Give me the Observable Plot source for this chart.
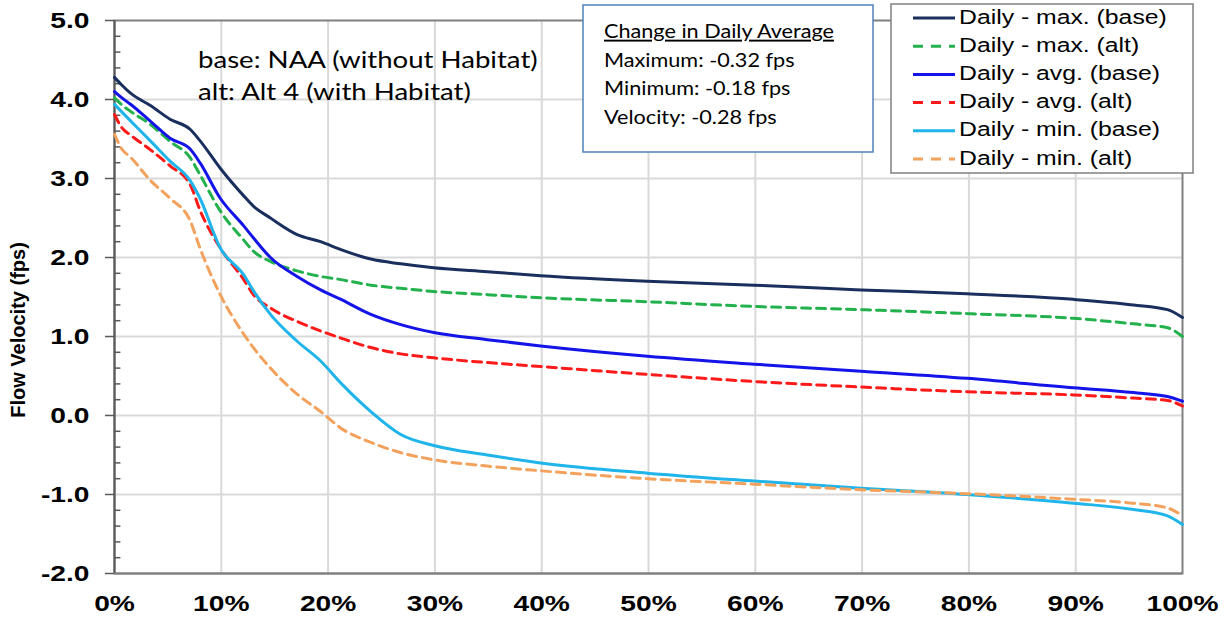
<!DOCTYPE html>
<html>
<head>
<meta charset="utf-8">
<script src="https://cdn.jsdelivr.net/npm/d3@7"></script>
<script src="https://cdn.jsdelivr.net/npm/@observablehq/plot@0.6"></script>
<style>
  html, body { margin: 0; padding: 0; background: #fff; }
  #chart { width: 1228px; height: 626px; }
</style>
</head>
<body>
<div id="chart"></div>
<script>
// Exceedance percentage (x) shared by all series
const pct = [0, 0.7, 1.5, 3.4, 5.2, 7.1, 8, 9.9, 12.1, 13, 14.6, 17.1, 19.3, 21.2, 24, 26.8, 29.9, 34.9, 39.9, 49.9, 59.9, 69.9, 79.8, 89.8, 95.4, 98.6, 100];

const maxBase = [4.28, 4.18, 4.08, 3.92, 3.75, 3.62, 3.48, 3.13, 2.78, 2.65, 2.50, 2.29, 2.20, 2.10, 1.98, 1.92, 1.87, 1.82, 1.77, 1.70, 1.65, 1.59, 1.54, 1.47, 1.40, 1.34, 1.24];
const maxAlt  = [4.02, 3.93, 3.85, 3.68, 3.47, 3.26, 3.05, 2.59, 2.22, 2.08, 1.95, 1.83, 1.76, 1.72, 1.65, 1.61, 1.57, 1.53, 1.49, 1.44, 1.38, 1.34, 1.29, 1.23, 1.16, 1.11, 1.00];
const avgBase = [4.10, 4.02, 3.94, 3.72, 3.51, 3.37, 3.20, 2.75, 2.40, 2.25, 2.00, 1.76, 1.59, 1.47, 1.28, 1.15, 1.05, 0.96, 0.88, 0.75, 0.65, 0.56, 0.47, 0.35, 0.29, 0.24, 0.18];
const avgAlt  = [3.81, 3.64, 3.55, 3.36, 3.16, 2.92, 2.60, 2.12, 1.72, 1.53, 1.36, 1.19, 1.07, 0.98, 0.86, 0.78, 0.73, 0.67, 0.62, 0.52, 0.43, 0.36, 0.30, 0.26, 0.22, 0.19, 0.12];
const minBase = [3.94, 3.84, 3.73, 3.47, 3.22, 2.97, 2.75, 2.12, 1.78, 1.58, 1.28, 0.94, 0.69, 0.41, 0.05, -0.24, -0.38, -0.50, -0.60, -0.73, -0.83, -0.92, -1.00, -1.11, -1.19, -1.27, -1.38];
const minAlt  = [3.56, 3.37, 3.27, 2.97, 2.75, 2.46, 2.12, 1.53, 1.03, 0.86, 0.60, 0.27, 0.05, -0.16, -0.34, -0.47, -0.56, -0.64, -0.70, -0.80, -0.87, -0.94, -0.99, -1.06, -1.11, -1.17, -1.27];

const seriesNames = ["Daily - max. (base)", "Daily - max. (alt)", "Daily - avg. (base)", "Daily - avg. (alt)", "Daily - min. (base)", "Daily - min. (alt)"];
const seriesValues = [maxBase, maxAlt, avgBase, avgAlt, minBase, minAlt];
const seriesColors = ["#1b2f5e", "#22b14c", "#1414e8", "#ff1a1a", "#1fb4ea", "#f2a25c"];
const seriesDash = [null, "9,6", null, "9,6", null, "9,6"];

const yTicks = [-2, -1, 0, 1, 2, 3, 4, 5];
const yMinorTicks = d3.range(-20, 51, 2).map(v => v / 10).filter(v => !Number.isInteger(v));
const xTicks = [0, 10, 20, 30, 40, 50, 60, 70, 80, 90, 100];

const noteLines = ["base: NAA (without Habitat)", "alt: Alt 4 (with Habitat)"];
const boxTitle = "Change in Daily Average";
const boxLines = ["Maximum: -0.32 fps", "Minimum: -0.18 fps", "Velocity: -0.28 fps"];
const yLabel = "Flow Velocity (fps)";

const rows = [];
seriesNames.forEach((name, i) => {
  pct.forEach((p, j) => rows.push({series: name, x: p, y: seriesValues[i][j], idx: i}));
});

const lineMarks = seriesNames.map((name, i) =>
  Plot.line(rows.filter(r => r.idx === i), {
    x: "x", y: "y",
    stroke: seriesColors[i],
    strokeWidth: 3,
    strokeDasharray: seriesDash[i] || undefined,
    curve: "monotone-x"
  })
);

const chart = Plot.plot({
  width: 1228,
  height: 626,
  marginLeft: 114,
  marginRight: 46,
  marginTop: 20,
  marginBottom: 53,
  style: {background: "#fff", fontFamily: "'Liberation Sans', Arial, sans-serif"},
  x: {domain: [0, 100]},
  y: {domain: [-2, 5]},
  marks: [
    Plot.gridX(xTicks.filter(t => t > 0 && t < 100), {stroke: "#d9d9d9", strokeOpacity: 1, strokeWidth: 2}),
    Plot.gridY(yTicks.filter(t => t > -2 && t < 5), {stroke: "#d9d9d9", strokeOpacity: 1, strokeWidth: 2}),
    Plot.frame({stroke: "#808080", strokeWidth: 2}),
    Plot.ruleX([0], {stroke: "#595959", strokeWidth: 2}),
    Plot.ruleY([-2], {stroke: "#808080", strokeWidth: 2}),
    Plot.ruleY(yMinorTicks, {x1: 0, x2: 0.6, stroke: "#595959", strokeWidth: 1.5}),
    Plot.axisY({ticks: yTicks, tickSize: 9, tickPadding: 16, tickFormat: d => d.toFixed(1),
      fontSize: 22, fontWeight: "bold", label: null, stroke: "#595959", strokeWidth: 1.5, fill: "#000"}),
    Plot.axisX({ticks: xTicks, tickSize: 0, tickPadding: 22, tickFormat: d => d + "%",
      fontSize: 22, fontWeight: "bold", label: null, fill: "#000"}),
    ...lineMarks
  ]
});

document.getElementById("chart").appendChild(chart);

const svg = d3.select(chart);

// widen axis tick labels horizontally (the reference glyphs are wide)
svg.selectAll("g[aria-label='y-axis tick label'] text, g[aria-label='x-axis tick label'] text").each(function() {
  const w = this.getComputedTextLength();
  if (w > 0) {
    this.setAttribute("textLength", (w * 1.28).toFixed(1));
    this.setAttribute("lengthAdjust", "spacingAndGlyphs");
  }
});

// Y axis title
svg.append("text")
  .attr("transform", "translate(20,330) rotate(-90)")
  .attr("text-anchor", "middle")
  .attr("dominant-baseline", "middle")
  .attr("font-family", "'Liberation Sans', Arial, sans-serif")
  .attr("font-weight", "bold")
  .attr("font-size", 20)
  .attr("fill", "#000")
  .text(yLabel);

// base / alt note
const note = svg.append("g").attr("font-family", "Lato, 'Open Sans', sans-serif").attr("font-size", 23)
  .attr("fill", "#000").attr("text-anchor", "start");
noteLines.forEach((t, i) => {
  note.append("text").attr("transform", `translate(198,${62 + i * 32}) scale(1.2,1)`)
    .attr("dominant-baseline", "middle").text(t);
});

// Change in Daily Average box
const box = svg.append("g");
box.append("rect").attr("x", 583).attr("y", 5).attr("width", 290).attr("height", 147)
  .attr("fill", "#fff").attr("stroke", "#4f81bd").attr("stroke-width", 1.5);
const bt = box.append("g").attr("font-family", "Lato, 'Open Sans', sans-serif").attr("font-size", 19)
  .attr("fill", "#000").attr("text-anchor", "start");
bt.append("text").attr("transform", "translate(604,33) scale(1.14,1)").attr("dominant-baseline", "middle")
  .attr("text-decoration", "underline").text(boxTitle);
boxLines.forEach((t, i) => {
  bt.append("text").attr("transform", `translate(604,${62 + i * 28.5}) scale(1.14,1)`)
    .attr("dominant-baseline", "middle").text(t);
});

// Legend
const lg = svg.append("g").attr("text-anchor", "start");
lg.append("rect").attr("x", 891).attr("y", 4).attr("width", 302).attr("height", 169)
  .attr("fill", "#fff").attr("stroke", "#808080").attr("stroke-width", 1.5);
seriesNames.forEach((name, i) => {
  const cy = 18 + i * 28.2;
  lg.append("line").attr("x1", 913).attr("x2", 955).attr("y1", cy).attr("y2", cy)
    .attr("stroke", seriesColors[i]).attr("stroke-width", 3)
    .attr("stroke-dasharray", seriesDash[i] ? "10,8" : null);
  lg.append("text").attr("transform", `translate(959,${cy}) scale(1.18,1)`).attr("dominant-baseline", "middle")
    .attr("font-family", "'Liberation Sans', Arial, sans-serif").attr("font-size", 21).attr("fill", "#000")
    .text(name);
});
</script>
</body>
</html>
